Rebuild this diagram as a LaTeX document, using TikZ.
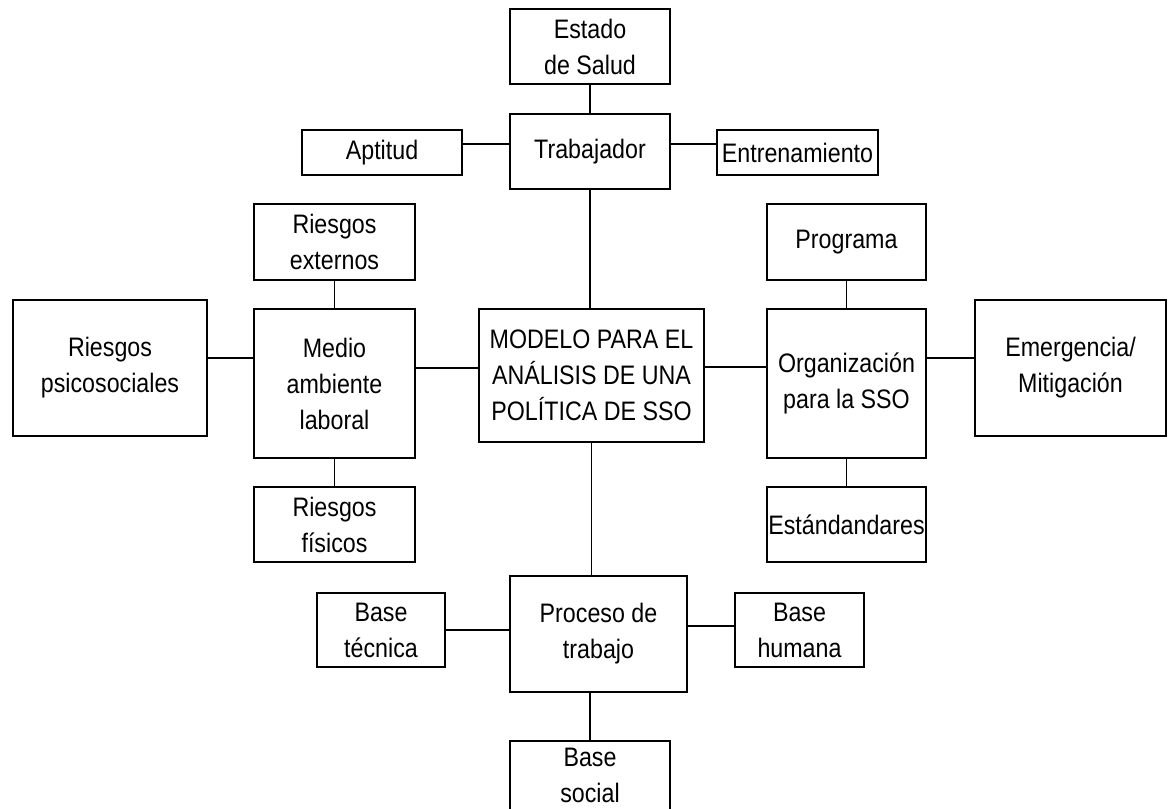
\documentclass[tikz,border=0pt]{standalone}
\usepackage{fontspec}
\setmainfont[FakeStretch=0.87]{Liberation Sans}

\begin{document}
\begin{tikzpicture}[x=0.025cm, y=-0.025cm,
  caja/.style={draw, line width=1.2pt, align=center, inner sep=1pt,
    font=\fontsize{19}{25.6}\selectfont},
  enlace/.style={line width=1.2pt}]
  \useasboundingbox (0,0) rectangle (1168,808);

  % 1. The central model box
  \node[caja, minimum width=5.625cm, minimum height=3.325cm] (modelo) at (591.5,375.5)
    {MODELO PARA EL\\ANÁLISIS DE UNA\\POLÍTICA DE SSO};

  % 2. The worker branch (top)
  \node[caja, minimum width=4cm, minimum height=1.875cm] (trab) at (590,151.5) {Trabajador};
  \node[caja, minimum width=4cm, minimum height=1.875cm] (estado) at (590,46.5) {Estado\\de Salud};
  \node[caja, minimum width=4cm, minimum height=1.125cm] (aptitud) at (382,152.5) {Aptitud};
  \node[caja, minimum width=4.025cm, minimum height=1.125cm] (entren) at (797.5,152.5) {Entrenamiento};

  % 3. The work environment branch (left)
  \node[caja, minimum width=4.025cm, minimum height=3.725cm] (medio) at (334.5,383.5) {Medio\\ambiente\\laboral};
  \node[caja, minimum width=4.025cm, minimum height=1.9cm] (rext) at (334.5,242) {Riesgos\\externos};
  \node[caja, minimum width=4.85cm, minimum height=3.4cm] (psico) at (110,368) {Riesgos\\psicosociales};
  \node[caja, minimum width=4.025cm, minimum height=1.875cm] (rfis) at (334.5,524.5) {Riesgos\\físicos};

  % 4. The organisation branch (right)
  \node[caja, minimum width=3.975cm, minimum height=3.725cm] (org) at (846.5,383.5) {Organización\\para la SSO};
  \node[caja, minimum width=3.975cm, minimum height=1.9cm] (prog) at (846.5,242) {Programa};
  \node[caja, minimum width=4.775cm, minimum height=3.4cm] (emerg) at (1070.5,368) {Emergencia/\\Mitigación};
  \node[caja, minimum width=3.975cm, minimum height=1.875cm] (estand) at (846.5,524.5) {Estándandares};

  % 5. The work process branch (bottom)
  \node[caja, minimum width=4.425cm, minimum height=2.9cm] (proceso) at (598.5,634) {Proceso de\\trabajo};
  \node[caja, minimum width=3.2cm, minimum height=1.85cm] (btec) at (381,630) {Base\\técnica};
  \node[caja, minimum width=3.225cm, minimum height=1.85cm] (bhum) at (799.5,630) {Base\\humana};
  \node[caja, minimum width=4cm, minimum height=1.725cm] (bsoc) at (590,775.5) {Base\\social};

  % 6. Connectors (plain lines, no arrow tips)
  \draw[enlace] (estado) -- (trab);
  \draw[enlace] ([yshift=0.21cm]aptitud.east) -- ([yshift=0.21cm]aptitud.east -| trab.west);
  \draw[enlace] ([yshift=0.21cm]entren.west) -- ([yshift=0.21cm]entren.west -| trab.east);
  \draw[enlace] (trab.south) -- (trab.south |- modelo.north);

  \draw[enlace] (rext) -- (medio);
  \draw[enlace] (medio) -- (rfis);
  \draw[enlace] ([yshift=0.25cm]psico.east) -- ([yshift=0.25cm]psico.east -| medio.west);
  \draw[enlace] ([yshift=0.19cm]modelo.west) -- ([yshift=0.19cm]modelo.west -| medio.east);

  \draw[enlace] (prog) -- (org);
  \draw[enlace] (org) -- (estand);
  \draw[enlace] ([yshift=0.21cm]modelo.east) -- ([yshift=0.21cm]modelo.east -| org.west);
  \draw[enlace] ([yshift=0.25cm]emerg.west) -- ([yshift=0.25cm]emerg.west -| org.east);

  \draw[enlace] (modelo.south) -- (modelo.south |- proceso.north);
  \draw[enlace] (btec.east) -- (btec.east -| proceso.west);
  \draw[enlace] ([yshift=0.1cm]bhum.west) -- ([yshift=0.1cm]bhum.west -| proceso.east);
  \draw[enlace] (bsoc.north) -- (bsoc.north |- proceso.south);

\end{tikzpicture}
\end{document}
